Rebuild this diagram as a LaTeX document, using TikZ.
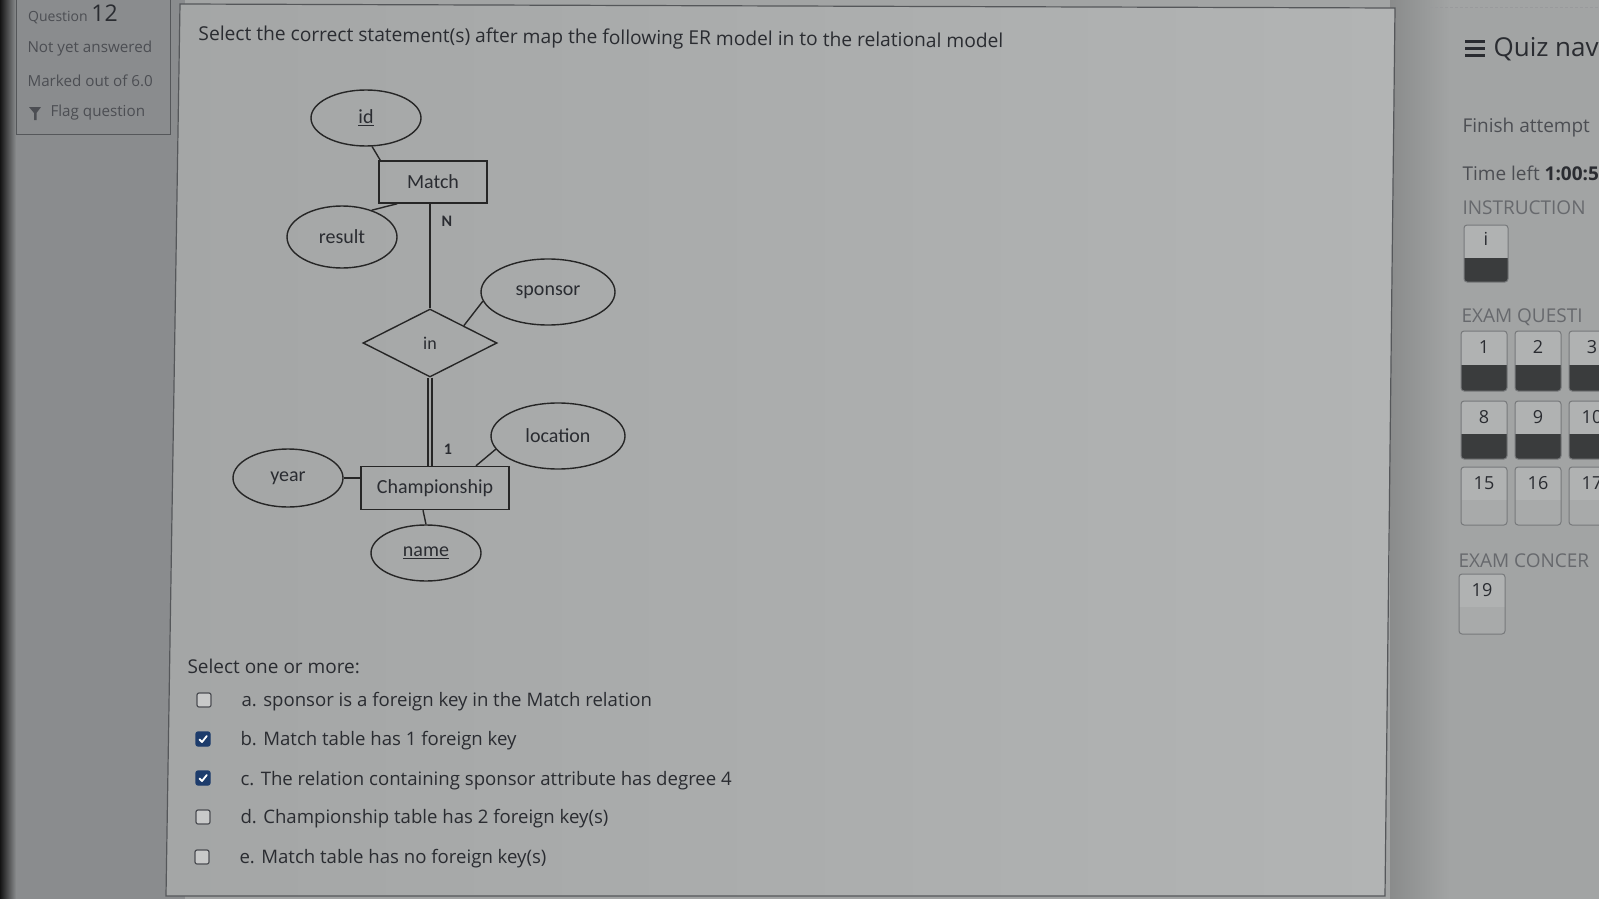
\documentclass[tikz,border=0pt]{standalone}
\usepackage{fontspec}
\setmainfont{Open Sans}
\newfontfamily\erfont{Carlito}
\usetikzlibrary{shapes.geometric,calc}
\definecolor{sidebg}{HTML}{A2A4A4}
\definecolor{leftbg}{HTML}{8A8C8E}
\definecolor{mainL}{HTML}{A4A6A6}
\definecolor{mainM}{HTML}{C6C8C7}
\definecolor{mainR}{HTML}{B2B4B4}
\definecolor{ink}{HTML}{2A2C31}
\definecolor{fadeink}{HTML}{4C4E53}
\definecolor{erline}{HTML}{262626}
\definecolor{panelline}{HTML}{55575A}
\definecolor{boxtop}{HTML}{B0B2B2}
\definecolor{boxdark}{HTML}{3A3C3D}
\definecolor{boxlow}{HTML}{A8AAAA}
\definecolor{checkblue}{HTML}{1D3C6C}
\begin{document}
\begin{tikzpicture}[x=1pt,y=-1pt,
  erattr/.style={ellipse,draw=erline,line width=1.4pt,inner sep=0pt,
    font=\erfont\fontsize{20}{22}\selectfont,text=ink},
  erent/.style={rectangle,draw=erline,line width=1.4pt,inner sep=0pt,
    font=\erfont\fontsize{20}{22}\selectfont,text=ink},
  errel/.style={diamond,draw=erline,line width=1.4pt,inner sep=0pt,
    font=\erfont\fontsize{18}{22}\selectfont,text=ink},
  erconn/.style={draw=erline,line width=1.4pt},
  card/.style={font=\erfont\bfseries\fontsize{16}{18}\selectfont,text=ink},
  lefttxt/.style={anchor=west,text=fadeink,font=\fontsize{15.2}{17}\selectfont},
  maintxt/.style={anchor=west,text=ink,font=\fontsize{18.6}{22}\selectfont},
  sidetxt/.style={anchor=west,text=fadeink,font=\fontsize{19}{22}\selectfont},
  cbox/.style={draw=fadeink,line width=1.2pt,rounded corners=2pt,fill=boxtop!70!white,
    minimum width=14pt,minimum height=14pt,inner sep=0pt},
  cboxon/.style={draw=checkblue,line width=1.2pt,rounded corners=2pt,fill=checkblue,
    minimum width=14pt,minimum height=14pt,inner sep=0pt},
  qbox/.style={draw=panelline!80,line width=1pt,rounded corners=3pt},
  qnum/.style={text=ink,font=\fontsize{18}{20}\selectfont}
]
\useasboundingbox (0,0) rectangle (1599,899);
\begin{scope}
\clip (0,0) rectangle (1599,899);
% ---------- backgrounds ----------
\fill[sidebg] (0,0) rectangle (1599,899);
\fill[leftbg] (0,0) rectangle (185,899);
\shade[left color=black!92,right color=leftbg] (0,0) rectangle (16,899);
\shade[left color=sidebg!85!black,right color=sidebg] (1390,0) rectangle (1450,899);
\draw[panelline!60,line width=1pt,dash pattern=on 3pt off 2pt] (1425,8) -- (1599,8);
% left info box
\draw[panelline,line width=1pt] (16,-3) rectangle (170,134);
% main panel
\shade[left color=mainL,middle color=mainM,right color=mainR]
  (180,4) -- (1395,8) -- (1385,896) -- (166,896) -- cycle;
\draw[panelline,line width=1.2pt] (180,4) -- (1395,8) -- (1385,896) -- (166,896) -- cycle;

% ---------- left info ----------
\node[anchor=base west,text=fadeink,inner sep=0pt] (qlabel) at (28,22)
  {\fontsize{14}{16}\selectfont Question \fontsize{23}{26}\selectfont\textcolor{ink}{12}};
\node[lefttxt] (notyet) at (24,49) {Not yet answered};
\node[lefttxt] (marked) at (24,81) {Marked out of 6.0};
\fill[fadeink] (29,107) -- (41,107) -- (36.5,113) -- (36.5,120) -- (34,120) -- (34,113) -- cycle;
\node[lefttxt] (flag) at (47,113) {Flag question};

% ---------- question ----------
\node[maintxt,font=\fontsize{19.2}{22}\selectfont,rotate=-0.55] (qtext) at (195,35)
  {Select the correct statement(s) after map the following ER model in to the relational model};

% ---------- ER diagram ----------
\node[erattr,minimum width=110pt,minimum height=56pt] (id) at (366,118) {\underline{id}};
\node[erent,minimum width=108pt,minimum height=42pt] (match) at (433,182) {Match};
\node[erattr,minimum width=110pt,minimum height=62pt] (result) at (342,237) {result};
\node[erattr,minimum width=134pt,minimum height=66pt] (sponsor) at (548,292) {sponsor};
\node[errel,minimum width=134pt,minimum height=68pt] (in) at (430,343) {in};
\node[erattr,minimum width=134pt,minimum height=66pt] (location) at (558,436) {location};
\node[erent,minimum width=148pt,minimum height=43pt] (champ) at (435,488) {Championship};
\node[erattr,minimum width=110pt,minimum height=58pt] (year) at (288,478) {year};
\node[erattr,minimum width=110pt,minimum height=56pt] (name) at (426,553) {\underline{name}};

\draw[erconn] (id.-78) -- ($(match.north west)+(2,0)$);
\draw[erconn] (result.42) -- ($(match.south west)+(19,0)$);
\draw[erconn] (in.north) -- (in.north |- match.south);
\draw[erconn] (in.north east) -- (sponsor.188);
\draw[erconn,double=mainL,double distance=2.6pt,line width=1.3pt] (in.south) -- (in.south |- champ.north);
\draw[erconn] ($(champ.north)+(41,0)$) -- (location.192);
\draw[erconn] (year.east |- 0,478) -- (champ.west |- 0,478);
\draw[erconn] ($(champ.south)+(-12,0)$) -- (name.north);
\node[card] (lblN) at (447,221) {N};
\node[card] (lbl1) at (448,449) {1};

% ---------- answers ----------
\node[maintxt,font=\fontsize{19}{22}\selectfont] (selone) at (184,666) {Select one or more:};
\node[cbox] (cba) at (204,700) {};
\node[cboxon] (cbb) at (203,739) {};
\node[cboxon] (cbc) at (203,778) {};
\node[cbox] (cbd) at (203,817) {};
\node[cbox] (cbe) at (202,857) {};
\foreach \c in {cbb,cbc}{
  \draw[white,line width=1.8pt,line cap=round,line join=round]
    ($(\c.center)+(-3.5,0.5)$) -- ($(\c.center)+(-1,3)$) -- ($(\c.center)+(3.8,-3)$);
}
\node[maintxt] (opta) at (238,702) {a. sponsor is a foreign key in the Match relation};
\node[maintxt] (optb) at (237,741) {b. Match table has 1 foreign key};
\node[maintxt] (optc) at (237,781) {c. The relation containing sponsor attribute has degree 4};
\node[maintxt] (optd) at (237,819) {d. Championship table has 2 foreign key(s)};
\node[maintxt] (opte) at (236,859) {e. Match table has no foreign key(s)};

% ---------- sidebar ----------
\foreach \yy in {42,49,56}{\fill[ink] (1465,\yy-1.5) rectangle (1485,\yy+1.5);}
\node[anchor=west,text=ink,font=\fontsize{26}{30}\selectfont] (quiznav) at (1490,49) {Quiz nav};
\node[sidetxt] (finish) at (1459,128) {Finish attempt};
\node[sidetxt] (timeleft) at (1459,173) {Time left \textbf{\textcolor{ink}{1:00:5}}};
\node[sidetxt,text=fadeink!85!white] (instr) at (1459,208) {INSTRUCTION};
\node[sidetxt,text=fadeink!85!white] (examq) at (1458,317) {EXAM QUESTI};
\node[sidetxt,text=fadeink!85!white] (examc) at (1455,561) {EXAM CONCER};
% box i
\fill[boxtop,rounded corners=3pt] (1464,225) rectangle (1508,282);
\fill[boxdark,rounded corners=3pt] (1464,258) rectangle (1508,282);
\fill[boxdark] (1464,258) rectangle (1508,266);
\draw[qbox] (1464,225) rectangle (1508,282);
\node[qnum] (bi) at (1486,239) {i};
% question boxes
\foreach \x/\n/\yt/\yb/\yd/\st in {
  1461/1/331/391/365/1, 1515/2/331/391/365/1, 1569/3/331/391/365/1,
  1461/8/401/459/434/1, 1515/9/401/459/434/1, 1569/10/401/459/434/1,
  1461/15/467/525/500/0, 1515/16/467/525/500/0, 1569/17/467/525/500/0,
  1459/19/574/634/607/0}{
  \fill[boxtop,rounded corners=3pt] (\x,\yt) rectangle (\x+46,\yb);
  \ifnum\st=1
    \fill[boxdark,rounded corners=3pt] (\x,\yd) rectangle (\x+46,\yb);
    \fill[boxdark] (\x,\yd) rectangle (\x+46,\yd+8);
  \else
    \fill[boxlow,rounded corners=3pt] (\x,\yd) rectangle (\x+46,\yb);
    \fill[boxlow] (\x,\yd) rectangle (\x+46,\yd+8);
  \fi
  \draw[qbox] (\x,\yt) rectangle (\x+46,\yb);
  \node[qnum] (qb\n) at (\x+23,\yt+16) {\n};
}
\end{scope}
\end{tikzpicture}
\end{document}
